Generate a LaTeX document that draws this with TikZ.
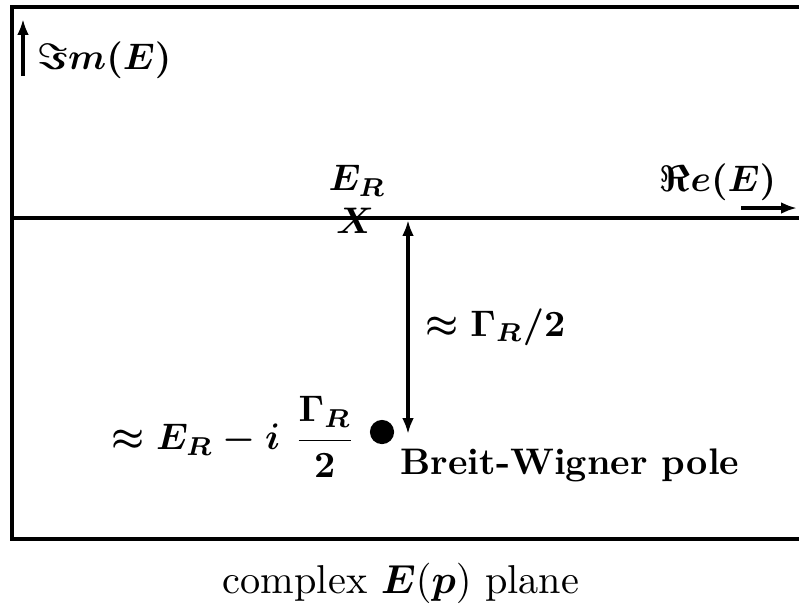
\documentclass[tikz,border=0pt]{standalone}
\usepackage{amsmath}
\usepackage{amssymb}
\usepackage{tikz}
\usetikzlibrary{arrows.meta, positioning}
\tikzset{
  lbl/.style={font=\bfseries\boldmath, inner sep=1pt},
  frame/.style={line width=1pt},
  arrow/.style={-{Latex[length=1.5mm,width=1.1mm]}, line width=0.9pt},
  dblarrow/.style={{Latex[length=1.5mm,width=1.1mm]}-{Latex[length=1.5mm,width=1.1mm]}, line width=0.9pt}
}
\begin{document}
\begin{tikzpicture}[x=0.0095cm, y=-0.0095cm]
  \useasboundingbox (0,0) rectangle (799,607);
  % frame and real axis
  \draw[frame] (799,7) -- (12,7) -- (12,539) -- (799,539);
  \coordinate (axL) at (12,218);
  \coordinate (axR) at (799,218);
  \draw[frame] (axL) -- (axR);

  % axis labels
  \coordinate (imfoot) at (23,76);
  \coordinate (imhead) at (23,19);
  \draw[arrow] (imfoot) -- (imhead);
  \node[lbl, anchor=west] (imlabel) at (33,60) {$\Im m(E)$};
  \node[lbl] (relabel) at (718,182) {$\Re e(E)$};
  \coordinate (refoot) at (741,208);
  \coordinate (rehead) at (797,208);
  \draw[arrow] (refoot) -- (rehead);

  % resonance on the real axis
  \node[lbl] (ER) at (357,181) {$E_R$};
  \node[lbl] (cross) at (355,221) {$X$};

  % pole and width
  \node[circle, fill, minimum size=2.3mm, inner sep=0pt] (pole) at (382,432) {};
  \coordinate (wtop) at (408,220);
  \coordinate (wbot) at (408,434);
  \draw[dblarrow] (wtop) -- (wbot);
  \node[lbl, anchor=west] (width) at (421,327) {$\approx \Gamma_R/2$};
  \node[lbl, anchor=east] (polepos) at (360,437) {$\approx E_R - i\ \dfrac{\Gamma_R}{2}$};
  \node[lbl, anchor=north west] (bw) at (396,444) {Breit-Wigner pole};

  \node[inner sep=1pt, font=\fontsize{10.9}{13}\selectfont] (caption) at (401,583) {complex $\boldsymbol{E}(\boldsymbol{p})$ plane};
\end{tikzpicture}
\end{document}
